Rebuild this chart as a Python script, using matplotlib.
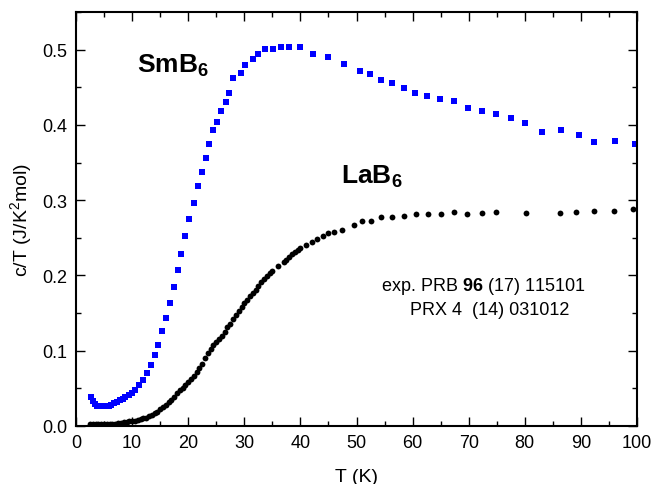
import numpy as np
import matplotlib
matplotlib.use("Agg")
import matplotlib.pyplot as plt
from matplotlib.ticker import MultipleLocator

plt.rcParams["font.family"] = "Liberation Sans"
plt.rcParams["mathtext.fontset"] = "custom"
plt.rcParams["mathtext.rm"] = "Liberation Sans"
plt.rcParams["mathtext.bf"] = "Liberation Sans:bold"
plt.rcParams["mathtext.it"] = "Liberation Sans:italic"

# SmB6 data (blue squares)
smb6_T = [2.6, 3.0, 3.4, 3.8, 4.3, 4.8, 5.3, 5.8, 6.3, 6.8, 7.3, 7.8, 8.3, 8.8,
          9.4, 9.9, 10.5, 11.2, 11.9, 12.6, 13.3, 14.0, 14.7, 15.4, 16.0, 16.7,
          17.5, 18.1, 18.8, 19.5, 20.2, 21.0, 21.7, 22.4, 23.1, 23.7, 24.5, 25.2,
          25.9, 26.7, 27.3, 28.0, 29.4, 30.2, 31.5, 32.4, 33.6, 35.1, 36.5, 37.9,
          39.9, 42.2, 44.9, 47.7, 50.6, 52.4, 54.4, 56.4, 58.4, 60.5, 62.6, 64.9,
          67.3, 69.8, 72.3, 74.8, 77.5, 80.0, 83.1, 86.4, 89.6, 92.3, 96.0, 99.6]
smb6_c = [0.038, 0.033, 0.029, 0.027, 0.026, 0.026, 0.026, 0.027, 0.028, 0.030,
          0.032, 0.034, 0.036, 0.038, 0.041, 0.044, 0.048, 0.054, 0.061, 0.071,
          0.081, 0.094, 0.108, 0.126, 0.144, 0.163, 0.185, 0.207, 0.229, 0.253,
          0.275, 0.296, 0.319, 0.338, 0.356, 0.374, 0.393, 0.404, 0.418, 0.431,
          0.442, 0.462, 0.469, 0.480, 0.487, 0.494, 0.501, 0.501, 0.504, 0.504,
          0.504, 0.494, 0.490, 0.481, 0.471, 0.468, 0.460, 0.456, 0.449, 0.443,
          0.439, 0.435, 0.432, 0.422, 0.419, 0.415, 0.409, 0.402, 0.390, 0.393,
          0.387, 0.377, 0.378, 0.374]

# LaB6 data (black circles)
lab6_T = [2.5, 3.0, 3.5, 4.0, 4.5, 5.0, 5.5, 6.0, 6.5, 7.0, 7.5, 8.0, 8.5, 9.0,
          9.5, 10.0, 10.5, 11.0, 11.5, 12.0, 12.5, 13.0, 13.5, 14.0, 14.5, 15.0,
          15.5, 16.0, 16.5, 17.0, 17.5, 18.0, 18.5, 19.0, 19.5, 20.0, 20.5, 21.0,
          21.5, 22.0, 22.5, 23.0, 23.5, 24.0, 24.5, 25.0, 25.5, 26.0, 26.5, 27.0,
          27.5, 28.0, 28.5, 29.0, 29.5, 30.0, 30.5, 31.0, 31.5, 32.0, 32.5, 33.0,
          33.5, 34.0, 34.5, 35.0, 36.0, 37.0, 37.5, 38.0, 38.5, 39.0, 39.5, 40.0,
          41.0, 42.0, 43.0, 44.0, 45.0, 46.0, 47.5, 49.5, 51.0, 52.5, 54.3, 56.3,
          58.4, 60.6, 62.8, 65.1, 67.3, 69.7, 72.3, 74.9, 80.2, 86.2, 89.2, 92.4,
          95.9, 99.3]
lab6_c = [0.002, 0.002, 0.002, 0.002, 0.002, 0.002, 0.002, 0.003, 0.003, 0.003,
          0.004, 0.004, 0.005, 0.005, 0.006, 0.006, 0.007, 0.008, 0.009, 0.010,
          0.011, 0.013, 0.015, 0.017, 0.019, 0.022, 0.025, 0.028, 0.032, 0.035,
          0.039, 0.044, 0.048, 0.051, 0.055, 0.058, 0.062, 0.067, 0.072, 0.077,
          0.083, 0.090, 0.097, 0.102, 0.107, 0.111, 0.115, 0.120, 0.125, 0.131,
          0.136, 0.142, 0.147, 0.153, 0.158, 0.163, 0.168, 0.173, 0.177, 0.181,
          0.186, 0.191, 0.195, 0.199, 0.203, 0.206, 0.212, 0.218, 0.221, 0.225,
          0.228, 0.231, 0.234, 0.236, 0.241, 0.245, 0.249, 0.252, 0.256, 0.258,
          0.261, 0.267, 0.272, 0.273, 0.278, 0.278, 0.279, 0.281, 0.281, 0.281,
          0.284, 0.282, 0.283, 0.284, 0.283, 0.283, 0.284, 0.286, 0.285, 0.288]

fig = plt.figure(figsize=(6.52, 4.85), dpi=100)
ax = fig.add_axes([0.1166, 0.1196, 0.8604, 0.8536])

ax.plot(smb6_T, smb6_c, "s", color="#0000ff", markersize=4.3, markeredgewidth=0)
ax.plot(lab6_T, lab6_c, "o", color="black", markersize=4.2, markeredgewidth=0)

ax.set_xlim(0, 100)
ax.set_ylim(0, 0.55)
ax.xaxis.set_major_locator(MultipleLocator(10))
ax.xaxis.set_minor_locator(MultipleLocator(5))
ax.yaxis.set_major_locator(MultipleLocator(0.1))
ax.yaxis.set_minor_locator(MultipleLocator(0.05))
ax.yaxis.set_major_formatter(matplotlib.ticker.FormatStrFormatter("%.1f"))
ax.tick_params(which="both", direction="in", top=True, right=True,
               labelsize=13, width=1)
ax.tick_params(which="major", length=6.5, pad=6)
ax.tick_params(which="minor", length=3.5)
for s in ax.spines.values():
    s.set_linewidth(1.5)

ax.set_xlabel("T (K)", fontsize=14, labelpad=12)
ax.set_ylabel("c/T (J/K$^2$mol)", fontsize=14, labelpad=6)

ax.text(10.9, 0.48, r"SmB$_\mathbf{6}$", fontsize=19, fontweight="bold",
        va="center", ha="left")
ax.text(47.3, 0.332, r"LaB$_\mathbf{6}$", fontsize=19, fontweight="bold",
        va="center", ha="left")
ax.text(72.5, 0.187, r"exp. PRB $\mathbf{96}$ (17) 115101", fontsize=13,
        ha="center", va="center")
ax.text(73.8, 0.155, "PRX 4  (14) 031012", fontsize=13, ha="center", va="center")

fig.savefig("out.png", dpi=100)
